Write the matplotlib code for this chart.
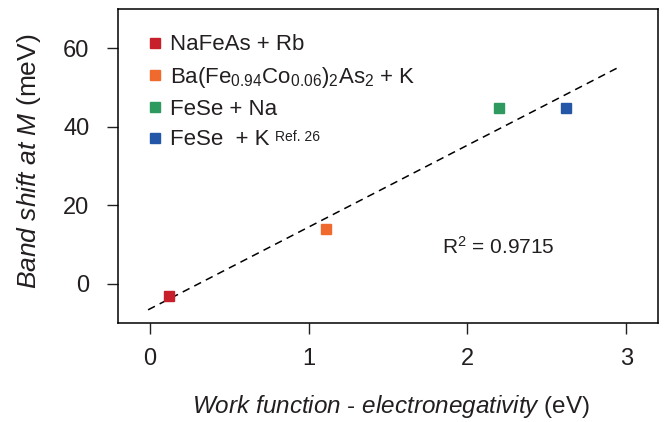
import numpy as np
import matplotlib.pyplot as plt

plt.rcParams['font.family'] = ['Liberation Sans', 'DejaVu Sans']
plt.rcParams['mathtext.fontset'] = 'custom'
plt.rcParams['mathtext.rm'] = 'Liberation Sans'
plt.rcParams['mathtext.it'] = 'Liberation Sans:italic'

# data
labels = ["NaFeAs + Rb",
          r"Ba(Fe$_{0.94}$Co$_{0.06}$)$_2$As$_2$ + K",
          "FeSe + Na",
          "FeSe  + K"]
ref_note = "Ref. 26"
work_minus_en = [0.12, 1.11, 2.20, 2.62]
band_shift = [-3.2, 13.9, 44.8, 44.8]
colors = ["#c8202b", "#ef6a2c", "#2e9a5f", "#2356a6"]

fit_range = [-0.01, 2.94]
r2_text = r"R$^2$ = 0.9715"

fig = plt.figure(figsize=(6.7, 4.22), dpi=100)
ax = fig.add_axes([0.176, 0.235, 0.806, 0.744])

# linear fit through the four points
slope, icpt = np.polyfit(work_minus_en, band_shift, 1)
xf = np.array(fit_range)
ax.plot(xf, slope * xf + icpt, color="black", lw=1.1, dashes=(5, 3.5), zorder=1)

for xv, yv, c, lab in zip(work_minus_en, band_shift, colors, labels):
    ax.plot([xv], [yv], marker="s", ms=7.3, color=c, ls="none", label=lab, zorder=2)

ax.text(1.84, 9.3, r2_text, fontsize=15, va="center", ha="left", color="#231f20")

ax.set_xlim(-0.2, 3.2)
ax.set_ylim(-10, 70)
ax.set_xticks([0, 1, 2, 3])
ax.set_yticks([0, 20, 40, 60])
ax.tick_params(direction="out", length=8, width=1.0, labelsize=17,
               colors="#231f20")
ax.tick_params(axis="y", pad=12.5)
ax.tick_params(axis="x", pad=10)
for s in ax.spines.values():
    s.set_linewidth(1.1)

ax.set_xlabel(r"$\it{Work\ function}$ - $\it{electronegativity}$ (eV)", fontsize=17.5,
              color="#231f20")
ax.set_ylabel(r"$\it{Band\ shift\ at\ M}$ (meV)", fontsize=19, color="#231f20")
ax.xaxis.set_label_coords(0.506, -0.224)
ax.yaxis.set_label_coords(-0.138, 0.515)

leg = ax.legend(loc="upper left", bbox_to_anchor=(0.035, 0.947), frameon=False,
                fontsize=16, handlelength=0.8, handletextpad=0.28,
                labelspacing=0.42, borderaxespad=0.0)
for t in leg.get_texts():
    t.set_color("#231f20")

# small superscript note after the last legend entry
fig.canvas.draw()
bb = leg.get_texts()[3].get_window_extent()
px, py = ax.transAxes.inverted().transform((bb.x1 + 6, bb.y1 - 1))
ax.text(px, py, ref_note, transform=ax.transAxes, fontsize=10,
        ha="left", va="top", color="#231f20")

fig.savefig("out.png", dpi=100)
